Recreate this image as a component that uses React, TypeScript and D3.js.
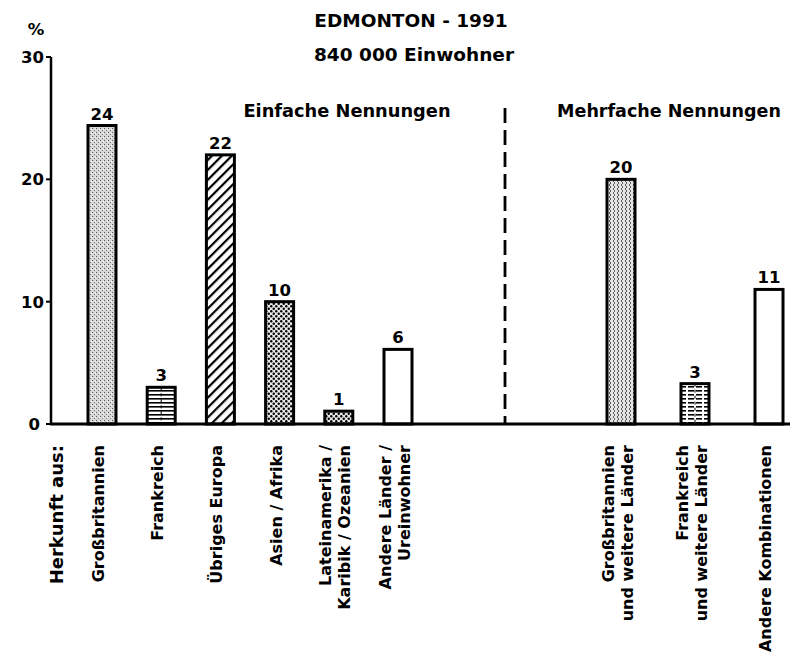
import React from "react";
import * as d3 from "d3";

const singleCategories = ["Großbritannien", "Frankreich", "Übriges Europa", "Asien / Afrika", "Lateinamerika / Karibik / Ozeanien", "Andere Länder / Ureinwohner"];
const singleLabelLines = [["Großbritannien"], ["Frankreich"], ["Übriges Europa"], ["Asien / Afrika"], ["Lateinamerika /", "Karibik / Ozeanien"], ["Andere Länder /", "Ureinwohner"]];
const singleValues = [24.4, 3, 22, 10, 1.05, 6.1];
const singleLabels = ["24", "3", "22", "10", "1", "6"];
const singlePatterns = ["stipple", "hlines", "diag", "dots", "dots", "none"];

const multiCategories = ["Großbritannien und weitere Länder", "Frankreich und weitere Länder", "Andere Kombinationen"];
const multiLabelLines = [["Großbritannien", "und weitere Länder"], ["Frankreich", "und weitere Länder"], ["Andere Kombinationen"]];
const multiValues = [20, 3.3, 11];
const multiLabels = ["20", "3", "11"];
const multiPatterns = ["stipple2", "hlines2", "none"];

const yTicks = [0, 10, 20, 30];

const FONT = "'DejaVu Sans', Verdana, sans-serif";

export default function App() {
  const W = 796, H = 655;
  const y = d3.scaleLinear().domain([0, 30]).range([424, 57]);
  const xL = d3.scalePoint<string>().domain(singleCategories).range([102, 398]);
  const xR = d3.scalePoint<string>().domain(multiCategories).range([621, 769]);
  const bw = 28;

  const fillFor = (p: string) => (p === "none" ? "#fff" : `url(#p-${p})`);

  const bars = (cats: string[], vals: number[], labs: string[], pats: string[], x: d3.ScalePoint<string>) =>
    cats.map((c, i) => {
      const cx = x(c)!;
      const top = y(vals[i]);
      return (
        <g key={c}>
          <rect x={cx - bw / 2} y={top} width={bw} height={y(0) - top} fill={fillFor(pats[i])} stroke="#000" strokeWidth={3} />
          {pats[i].startsWith("hlines") && (
            <line x1={cx} x2={cx} y1={top} y2={y(0)} stroke="#000" strokeWidth={1} strokeDasharray="3 3" />
          )}
          <text x={cx} y={top - 6} textAnchor="middle" fontSize={16.5} fontWeight="bold" fontFamily={FONT}>{labs[i]}</text>
        </g>
      );
    });

  const catLabels = (cats: string[], lines: string[][], x: d3.ScalePoint<string>) =>
    cats.map((c, i) => {
      const cx = x(c)!;
      const n = lines[i].length;
      return lines[i].map((ln, j) => {
        const lx = cx + (j - (n - 1) / 2) * 19 + 2;
        return (
          <text key={c + j} transform={`translate(${lx},445) rotate(-90)`} textAnchor="end" fontSize={16} fontWeight="bold" fontFamily={FONT}>{ln}</text>
        );
      });
    });

  return (
    <svg width={W} height={H} style={{ position: "absolute", left: 0, top: 0, background: "#fff" }}>
      <defs>
        <pattern id="p-stipple" width="4" height="4" patternUnits="userSpaceOnUse">
          <rect width="4" height="4" fill="#d8d8d8" />
          <rect x="0" y="0" width="1" height="1" fill="#555" />
          <rect x="2" y="2" width="1" height="1" fill="#777" />
          <rect x="3" y="1" width="1" height="1" fill="#fff" />
        </pattern>
        <pattern id="p-stipple2" width="8" height="4" patternUnits="userSpaceOnUse">
          <rect width="8" height="4" fill="#e4e4e4" />
          <rect x="1" y="0" width="1" height="2" fill="#555" />
          <rect x="2" y="2" width="1" height="2" fill="#555" />
          <rect x="5" y="0" width="1" height="2" fill="#666" />
          <rect x="6" y="2" width="1" height="2" fill="#666" />
        </pattern>
        <pattern id="p-hlines" width="4" height="4" patternUnits="userSpaceOnUse">
          <rect width="4" height="4" fill="#fff" />
          <rect x="0" y="2" width="4" height="1.6" fill="#000" />
        </pattern>
        <pattern id="p-hlines2" width="8" height="4" patternUnits="userSpaceOnUse">
          <rect width="8" height="4" fill="#fff" />
          <rect x="0" y="2" width="6" height="1.6" fill="#000" />
        </pattern>
        <pattern id="p-diag" width="7" height="7" patternUnits="userSpaceOnUse" patternTransform="rotate(45)">
          <rect width="7" height="7" fill="#fff" />
          <rect x="0" y="0" width="2.2" height="7" fill="#000" />
        </pattern>
        <pattern id="p-dots" width="5" height="5" patternUnits="userSpaceOnUse">
          <rect width="5" height="5" fill="#e8e8e8" />
          <circle cx="1.25" cy="1.25" r="1.2" fill="#000" />
          <circle cx="3.75" cy="3.75" r="1.2" fill="#000" />
        </pattern>
      </defs>

      {/* titles */}
      <text x={411} y={27} textAnchor="middle" fontSize={18.5} fontWeight="bold" fontFamily={FONT}>EDMONTON - 1991</text>
      <text x={414} y={61} textAnchor="middle" fontSize={18.5} fontWeight="bold" fontFamily={FONT}>840 000 Einwohner</text>
      <text x={347} y={117} textAnchor="middle" fontSize={17.8} fontWeight="bold" fontFamily={FONT}>Einfache Nennungen</text>
      <text x={669} y={117} textAnchor="middle" fontSize={17.5} fontWeight="bold" fontFamily={FONT}>Mehrfache Nennungen</text>

      {/* y axis */}
      <text x={36} y={35} textAnchor="middle" fontSize={16.5} fontWeight="bold" fontFamily={FONT}>%</text>
      <line x1={51} x2={51} y1={y(30)} y2={y(0)} stroke="#000" strokeWidth={2.5} />
      {yTicks.map((t) => (
        <g key={t}>
          <line x1={46} x2={51} y1={y(t)} y2={y(t)} stroke="#000" strokeWidth={2} />
          <text x={t === 0 ? 40 : 44} y={y(t) + 6} textAnchor="end" fontSize={16.5} fontWeight="bold" fontFamily={FONT}>{t}</text>
        </g>
      ))}

      {/* divider */}
      <line x1={505} x2={505} y1={108} y2={424} stroke="#000" strokeWidth={2.8} strokeDasharray="15 7" />

      {bars(singleCategories, singleValues, singleLabels, singlePatterns, xL)}
      {bars(multiCategories, multiValues, multiLabels, multiPatterns, xR)}

      {/* baseline */}
      <line x1={50} x2={790} y1={y(0)} y2={y(0)} stroke="#000" strokeWidth={2.8} />

      {/* category labels */}
      <text transform={`translate(63,445) rotate(-90)`} textAnchor="end" fontSize={18} fontWeight="bold" fontFamily={FONT}>Herkunft aus:</text>
      {catLabels(singleCategories, singleLabelLines, xL)}
      {catLabels(multiCategories, multiLabelLines, xR)}
    </svg>
  );
}
